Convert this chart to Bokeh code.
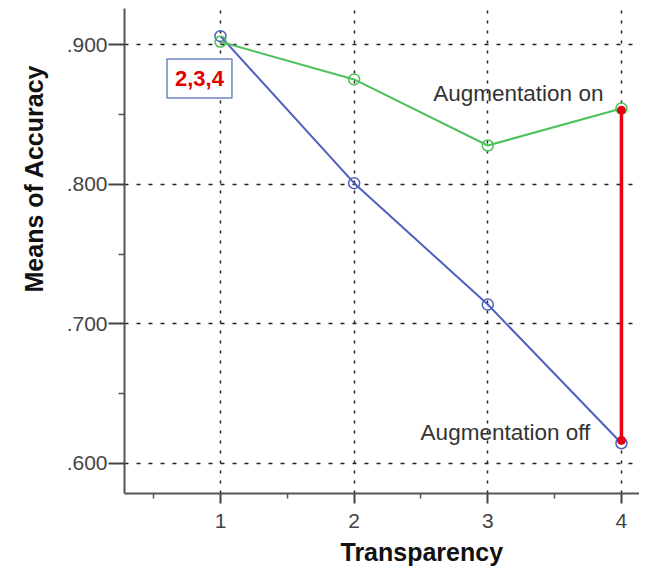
from bokeh.plotting import figure
from bokeh.models import (Range1d, FixedTicker, CustomJSTickFormatter, Label, Title)
from bokeh.embed import file_html
from bokeh.resources import INLINE

transparency = [1, 2, 3, 4]
acc_off = [0.906, 0.8007, 0.7138, 0.6145]
acc_on = [0.902, 0.875, 0.8277, 0.8542]
diff_x = [4, 4]
diff_y = [0.853, 0.6165]
y_ticks = [0.6, 0.7, 0.8, 0.9]
y_minor = [0.65, 0.75, 0.85]
x_ticks = [1, 2, 3, 4]
x_minor = [0.5, 1.5, 2.5, 3.5]

p = figure(width=639, height=572, output_backend="svg", toolbar_location=None,
           x_range=Range1d(0.282, 4.135), y_range=Range1d(0.5785, 0.9258),
           min_border_left=124, min_border_right=0, min_border_top=8,
           min_border_bottom=79)
p.outline_line_color = None
p.background_fill_color = "white"
p.border_fill_color = "white"

# axes
for ax in (p.xaxis[0], p.yaxis[0]):
    ax.axis_line_color = "#555555"
    ax.axis_line_width = 2
    ax.major_tick_line_color = "#444444"
    ax.major_tick_line_width = 2
    ax.minor_tick_line_color = "#555555"
    ax.minor_tick_line_width = 1.5
    ax.major_tick_in = 0
    ax.minor_tick_in = 0
    ax.major_label_text_font = "Liberation Sans"
    ax.major_label_text_font_size = "21px"
    ax.major_label_text_color = "#444444"

p.yaxis.ticker = FixedTicker(ticks=y_ticks, minor_ticks=y_minor)
p.yaxis.formatter = CustomJSTickFormatter(code="return tick.toFixed(3).replace(/^0/, '');")
p.yaxis.major_tick_out = 16
p.yaxis.minor_tick_out = 6
p.yaxis.major_label_standoff = 1

p.xaxis.ticker = FixedTicker(ticks=x_ticks, minor_ticks=x_minor)
p.xaxis.major_tick_out = 10
p.xaxis.minor_tick_out = 5
p.xaxis.major_label_standoff = 10

# axis titles, placed as titles so they can sit off-centre like the reference
p.add_layout(Title(text="Transparency", align="left", offset=216, standoff=11,
                   text_font="Liberation Sans", text_font_style="bold",
                   text_font_size="25px", text_color="#111111"), "below")
p.add_layout(Title(text="Means of Accuracy", align="left", offset=201, standoff=28,
                   vertical_align="top",
                   text_font="Liberation Sans", text_font_style="bold",
                   text_font_size="25px", text_color="#111111"), "left")

# grid
for g in (p.xgrid[0], p.ygrid[0]):
    g.grid_line_color = "#222222"
    g.grid_line_width = 1.5
p.xgrid.grid_line_dash = "3 7"
p.ygrid.grid_line_dash = "4 8"
p.xgrid.ticker = FixedTicker(ticks=x_ticks)
p.ygrid.ticker = FixedTicker(ticks=y_ticks)

# series
blue = "#4f5fbf"
green = "#4cc25a"
p.line(transparency, acc_off, line_color=blue, line_width=2)
p.scatter(transparency, acc_off, marker="circle", size=11, fill_color=None,
          line_color=blue, line_width=1.5)
p.line(transparency, acc_on, line_color=green, line_width=2)
p.scatter(transparency, acc_on, marker="circle", size=11, fill_color=None,
          line_color=green, line_width=1.5)

# difference marker
p.line(diff_x, diff_y, line_color="#e60012", line_width=3.5)
p.scatter(diff_x, diff_y, marker="circle", size=8, fill_color="#e60012",
          line_color="#e60012")

# labels
p.add_layout(Label(x=3.865, y=0.865, text="Augmentation on", text_align="right",
                   text_baseline="middle", text_font="Liberation Sans",
                   text_font_size="22.5px", text_color="#333333"))
p.add_layout(Label(x=3.767, y=0.6225, text="Augmentation off", text_align="right",
                   text_baseline="middle", text_font="Liberation Sans",
                   text_font_size="22.5px", text_color="#333333"))
p.add_layout(Label(x=0.843, y=0.8757, text="2,3,4", text_align="center",
                   text_baseline="middle", text_font="Liberation Sans",
                   text_font_style="bold", text_font_size="22px",
                   text_color="#e00000", background_fill_color="white",
                   border_line_color="#6d86c4", border_line_width=1.5,
                   padding=(8, 12)))

open("out.html", "w").write(file_html(p, INLINE))
